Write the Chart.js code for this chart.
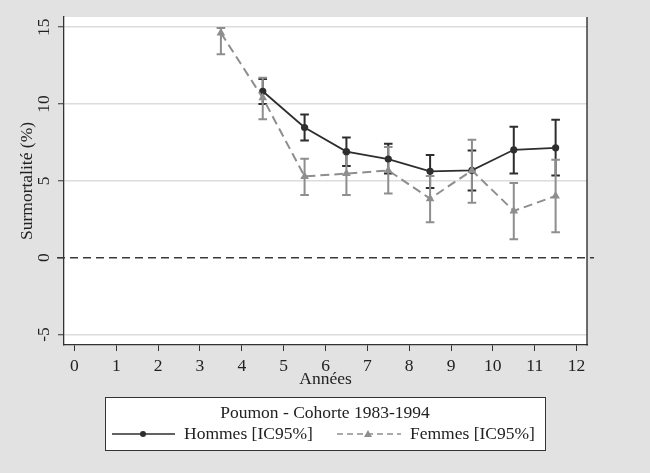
<!DOCTYPE html>
<html>
<head>
<meta charset="utf-8">
<script src="https://cdn.jsdelivr.net/npm/chart.js@4"></script>
<style>
html,body{margin:0;padding:0;background:#e2e2e2;}
#wrap{width:650px;height:473px;}
</style>
</head>
<body>
<div id="wrap"><canvas id="c" width="650" height="473"></canvas></div>
<script>
// ---- data ----
const years = [3.5, 4.5, 5.5, 6.5, 7.5, 8.5, 9.5, 10.5, 11.5];
const hommes   = [null, 10.83, 8.47, 6.90, 6.42, 5.62, 5.68, 7.02, 7.15];
const hommesLo = [null, 10.00, 7.63, 5.96, 5.47, 4.53, 4.38, 5.47, 5.34];
const hommesHi = [null, 11.63, 9.32, 7.82, 7.41, 6.68, 6.98, 8.52, 8.97];
const femmes   = [14.62, 10.40, 5.29, 5.47, 5.68, 3.84, 5.68, 3.04, 4.02];
const femmesLo = [13.23, 9.00, 4.08, 4.08, 4.17, 2.30, 3.58, 1.20, 1.66];
const femmesHi = [14.95, 11.70, 6.44, 6.86, 7.20, 5.31, 7.67, 4.86, 6.38];
const xTicks = [0,1,2,3,4,5,6,7,8,9,10,11,12];
const yTicks = [-5, 0, 5, 10, 15];
const legendTitle = 'Poumon - Cohorte 1983-1994';
const labelHommes = 'Hommes [IC95%]';
const labelFemmes = 'Femmes [IC95%]';
const xTitle = 'Années';
const yTitle = 'Surmortalité (%)';

const FONT = "'Liberation Serif', 'DejaVu Serif', serif";
const FS = 17.5;
const DARK = '#2e2e2e';
const GREY = '#8e8e8e';

function pts(vals){ return years.map((x,i)=> vals[i]==null ? null : {x:x, y:vals[i]}).filter(p=>p); }

const bgPlugin = {
  id:'bg',
  beforeDraw(chart){
    const {ctx, chartArea:a} = chart;
    ctx.save();
    ctx.fillStyle = '#e2e2e2';
    ctx.fillRect(0,0,chart.width,chart.height);
    ctx.fillStyle = '#ffffff';
    ctx.fillRect(a.left, a.top, a.right-a.left, a.bottom-a.top);
    ctx.restore();
  }
};

const errPlugin = {
  id:'err',
  beforeDatasetsDraw(chart){
    const {ctx, scales:{x, y}} = chart;
    const sets = [[hommesLo, hommesHi, DARK],[femmesLo, femmesHi, GREY]];
    ctx.save();
    ctx.lineWidth = 2;
    sets.forEach(([lo, hi, col])=>{
      ctx.strokeStyle = col;
      years.forEach((yr,i)=>{
        if (lo[i]==null) return;
        const px = x.getPixelForValue(yr);
        const p1 = y.getPixelForValue(lo[i]);
        const p2 = y.getPixelForValue(hi[i]);
        ctx.beginPath();
        ctx.moveTo(px,p1); ctx.lineTo(px,p2);
        ctx.moveTo(px-4.3,p1); ctx.lineTo(px+4.3,p1);
        ctx.moveTo(px-4.3,p2); ctx.lineTo(px+4.3,p2);
        ctx.stroke();
      });
    });
    ctx.restore();
  },
  afterDraw(chart){
    const {ctx, chartArea:a, scales:{y}} = chart;
    ctx.save();
    // right border
    ctx.strokeStyle = '#222';
    ctx.lineWidth = 1.3;
    ctx.beginPath(); ctx.moveTo(a.right, a.top); ctx.lineTo(a.right, a.bottom+0.5); ctx.stroke();
    // zero dashed line
    const y0 = y.getPixelForValue(0);
    ctx.strokeStyle = '#3a3a3a';
    ctx.lineWidth = 1.5;
    ctx.setLineDash([8,5]);
    ctx.beginPath(); ctx.moveTo(57, y0); ctx.lineTo(594, y0); ctx.stroke();
    ctx.setLineDash([]);
    // legend box
    const lx = 105, ly = 397, lw = 440, lh = 53;
    ctx.fillStyle = '#ffffff';
    ctx.fillRect(lx, ly, lw, lh);
    ctx.strokeStyle = '#333';
    ctx.lineWidth = 1;
    ctx.strokeRect(lx+0.5, ly+0.5, lw, lh);
    ctx.fillStyle = '#222';
    ctx.font = FS + 'px ' + FONT;
    ctx.textBaseline = 'middle';
    ctx.textAlign = 'center';
    ctx.fillText(legendTitle, 325, 413);
    ctx.textAlign = 'left';
    // hommes sample
    ctx.strokeStyle = DARK; ctx.lineWidth = 1.5;
    ctx.beginPath(); ctx.moveTo(112, 434); ctx.lineTo(175, 434); ctx.stroke();
    ctx.fillStyle = DARK;
    ctx.beginPath(); ctx.arc(143, 434, 3, 0, Math.PI*2); ctx.fill();
    ctx.fillStyle = '#222';
    ctx.fillText(labelHommes, 184, 434);
    // femmes sample
    ctx.strokeStyle = GREY; ctx.lineWidth = 1.5; ctx.setLineDash([6,4]);
    ctx.beginPath(); ctx.moveTo(337, 434); ctx.lineTo(401, 434); ctx.stroke();
    ctx.setLineDash([]);
    ctx.fillStyle = GREY;
    ctx.beginPath(); ctx.moveTo(368, 430); ctx.lineTo(372, 437); ctx.lineTo(364, 437); ctx.closePath(); ctx.fill();
    ctx.fillStyle = '#222';
    ctx.fillText(labelFemmes, 410, 434);
    ctx.restore();
  }
};

new Chart(document.getElementById('c'), {
  type:'line',
  data:{
    datasets:[
      {label:labelFemmes, data:pts(femmes), borderColor:GREY, backgroundColor:GREY, borderWidth:2,
       borderDash:[9,5], pointStyle:'triangle', pointRadius:5, pointBorderWidth:0, order:0, tension:0},
      {label:labelHommes, data:pts(hommes), borderColor:DARK, backgroundColor:DARK, borderWidth:1.8,
       pointStyle:'circle', pointRadius:3.6, pointBorderWidth:0, order:1, tension:0}
    ]
  },
  plugins:[bgPlugin, errPlugin],
  options:{
    responsive:false, animation:false, devicePixelRatio:1,
    layout:{padding:{left:0, right:63, top:17, bottom:83}},
    plugins:{legend:{display:false}, tooltip:{enabled:false}},
    scales:{
      x:{type:'linear', min:-0.25, max:12.25,
         afterBuildTicks(s){ s.ticks = xTicks.map(v=>({value:v})); },
         afterFit(s){ s.height = 45; },
         grid:{drawOnChartArea:false, drawTicks:true, tickLength:6, tickColor:'#333', tickWidth:1},
         border:{color:'#333', width:1.3},
         ticks:{color:'#222', font:{family:FONT, size:FS}, padding:5, maxRotation:0, minRotation:0},
         title:{display:true, text:xTitle, color:'#222', font:{family:FONT, size:FS}, padding:0}
      },
      y:{type:'linear', min:-5.68, max:15.66,
         afterBuildTicks(s){ s.ticks = yTicks.map(v=>({value:v})); },
         afterFit(s){ s.width = 64; },
         grid:{drawOnChartArea:true, color:(c)=> c.tick && c.tick.value===0 ? 'rgba(0,0,0,0)' : '#dcdcdc', lineWidth:1.5,
               drawTicks:true, tickLength:6, tickColor:'#333', tickWidth:1},
         border:{color:'#333', width:1.3},
         ticks:{color:'#222', font:{family:FONT, size:FS}, padding:4.5, minRotation:90, maxRotation:90, crossAlign:'center'},
         title:{display:true, text:yTitle, color:'#222', font:{family:FONT, size:FS}, padding:{top:16.5, bottom:0}}
      }
    }
  }
});
</script>
</body>
</html>
